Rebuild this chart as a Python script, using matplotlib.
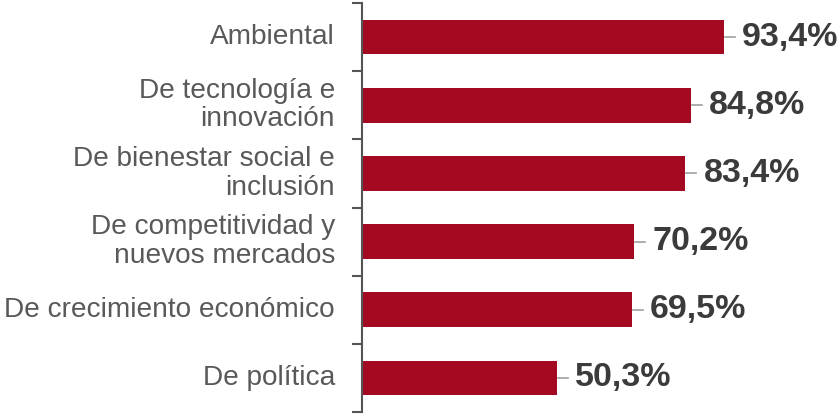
import matplotlib
matplotlib.use("Agg")
import matplotlib.pyplot as plt
from matplotlib.lines import Line2D

# data, top to bottom
categories = [
    "Ambiental",
    "De tecnología e\ninnovación",
    "De bienestar social e\ninclusión",
    "De competitividad y\nnuevos mercados",
    "De crecimiento económico",
    "De política",
]
values = [93.4, 84.8, 83.4, 70.2, 69.5, 50.3]
value_labels = ["93,4%", "84,8%", "83,4%", "70,2%", "69,5%", "50,3%"]

plt.rcParams['font.family'] = ['Liberation Sans', 'DejaVu Sans']

fig = plt.figure(figsize=(8.39, 4.16), dpi=100)
ax = fig.add_axes([362 / 839, 4 / 416, 477 / 839, 409 / 416])

ypos = list(range(len(categories)))
ax.barh(ypos, values, height=0.51, color="#A30A22")
ax.set_xlim(0, 123)
ax.set_ylim(len(categories) - 0.5, -0.5)

# leader lines and value labels
for y, v, lab in zip(ypos, values, value_labels):
    # short grey line starting at the bar end, in pixel units
    x0, y0 = ax.transData.transform((v, y))
    fig.add_artist(Line2D([x0 + 1, x0 + 11], [y0, y0], color="#a0a0a0",
                          lw=1.2, transform=None))
    ax.annotate(lab, xy=(v, y), xytext=(18, 0), textcoords='offset pixels',
                ha='left', va='center', fontsize=24.5, fontweight='bold',
                color="#3b3b3b")

# category labels
for y, c in zip(ypos, categories):
    ax.annotate(c, xy=(0, y), xytext=(-27, 0), textcoords='offset pixels',
                ha='right', va='center', fontsize=20.2, color="#595959",
                linespacing=1.12, multialignment='right')

for s in ["top", "right", "bottom"]:
    ax.spines[s].set_visible(False)
ax.spines["left"].set_color("#555555")
ax.spines["left"].set_linewidth(1.5)
ax.set_xticks([])
ax.set_yticks([])
ax.set_yticks([i - 0.5 for i in range(len(categories) + 1)], minor=True)
ax.tick_params(axis='y', which='minor', direction='out', length=7, width=1.5,
               color="#555555", labelleft=False)

fig.savefig("out.png", dpi=100)
